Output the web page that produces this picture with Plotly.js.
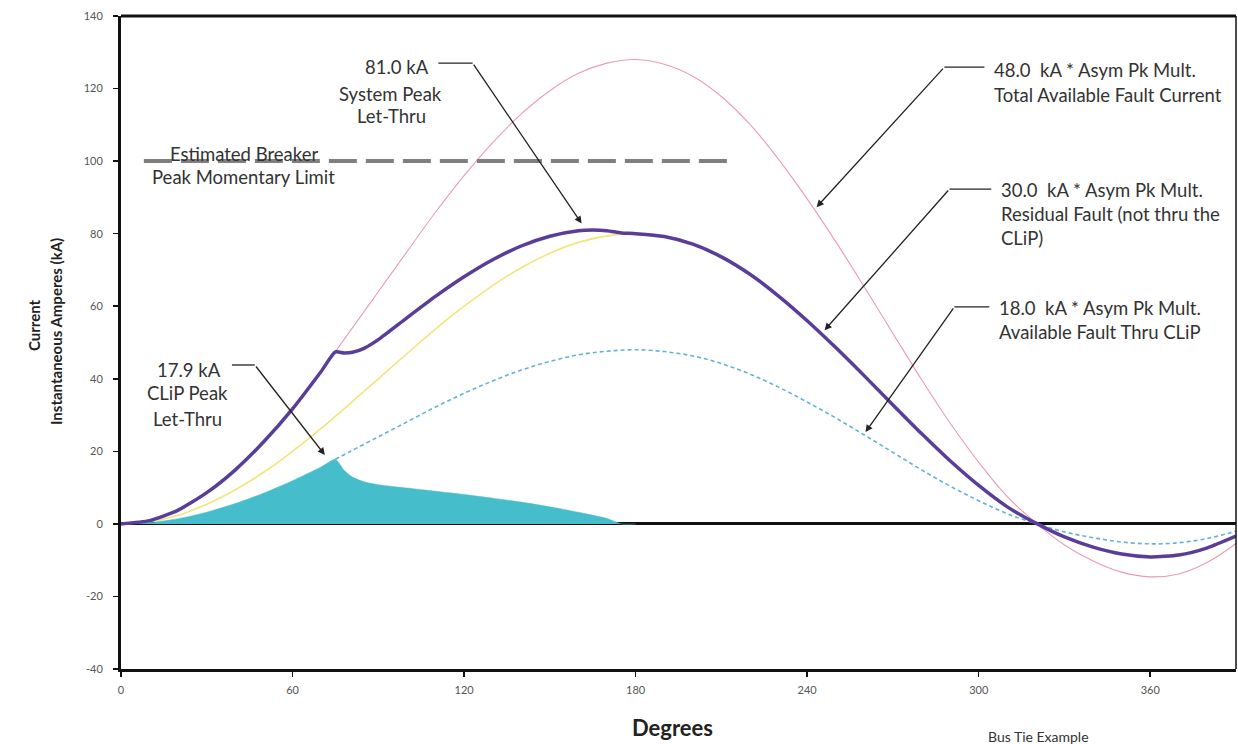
<!DOCTYPE html>
<html>
<head>
<meta charset="utf-8">
<script src="https://cdn.plot.ly/plotly-3.0.1.min.js"></script>
<style>html,body{margin:0;padding:0;background:#fff;}#chart{width:1238px;height:744px;}</style>
</head>
<body>
<div id="chart"></div>
<script>
// ---- data ----
const degTotal = [0,10,20,30,40,50,60,70,80,90,100,110,120,130,140,150,160,170,180,190,200,210,220,230,240,250,260,270,280,290,300,310,320,330,340,350,360,370,380,390];
const totalFault = [0,1,3.8,8.6,15,22.9,32,42.1,53,64,75,85.9,96,105.1,113,119.4,124.2,127,128,126.7,123.4,117.8,110.1,100.5,89.6,77.8,65.3,52.5,39.8,27.8,17,7.5,0.3,-5.8,-10.2,-13.3,-14.6,-13.8,-10.6,-5.4];
const residualFault = [0,0.6,2.4,5.4,9.4,14.3,20,26.3,33.1,40,46.9,53.7,60,65.7,70.6,74.6,77.6,79.4,80,79.2,77.1,73.6,68.8,62.8,56,48.6,40.8,32.8,24.9,17.4,10.6,4.7,0.2,-3.6,-6.4,-8.3,-9.1,-8.6,-6.6,-3.4];

const degClip = [75,80,90,100,110,120,130,140,150,160,170,180,190,200,210,220,230,240,250,260,270,280,290,300,310,320,330,340,350,360,370,380,390];
const clipFault = [17.8,19.9,24,28.1,32.2,36,39.4,42.4,44.8,46.6,47.6,48,47.5,46.3,44.2,41.3,37.7,33.6,29.2,24.5,19.7,14.9,10.4,6.4,2.8,0.1,-2.2,-3.8,-5,-5.5,-5.2,-4,-2];

const degLetThru = [0,10,20,30,40,50,60,70,75,78,81,85,90,100,110,120,130,140,150,160,170,175,180];
const clipLetThru = [0,0.36,1.44,3.24,5.6,8.5,11.9,15.7,17.8,14.8,12.9,11.6,10.8,9.9,9.0,8.1,7.1,6.0,4.7,3.2,1.5,0,0];

const degSystem = [0,10,20,30,40,50,60,70,75,78,81,85,90,100,110,120,130,140,150,160,165,170,175,180,190,200,210,220,230,240,250,260,270,280,290,300,310,320,330,340,350,360,370,380,390];
const systemLetThru = [0,0.9,3.8,8.6,14.9,22.7,31.7,42,47.4,47.1,47.3,48.4,50.8,56.8,62.7,68.1,72.8,76.6,79.3,80.8,81,80.8,80.2,80,79.2,77.1,73.6,68.8,62.8,56,48.6,40.8,32.8,24.9,17.4,10.6,4.7,0.2,-3.6,-6.4,-8.3,-9.1,-8.6,-6.6,-3.4];

const breakerDeg = [8,215];
const breakerLimit = [100,100];

const xTicks = [0,60,120,180,240,300,360];
const yTicks = [-40,-20,0,20,40,60,80,100,120,140];

const FONT = 'Lato, "Open Sans", sans-serif';
const ANN = 18.5;

const traces = [
  {x: degTotal, y: totalFault, mode:'lines', line:{color:'#e99abb', width:1.1, shape:'spline'}, hoverinfo:'skip'},
  {x: degTotal, y: residualFault, mode:'lines', line:{color:'#f2e57a', width:1.6, shape:'spline'}, hoverinfo:'skip'},
  {x: degClip, y: clipFault, mode:'lines', line:{color:'#62b3d6', width:1.6, shape:'spline', dash:'4px,3px'}, hoverinfo:'skip'},
  {x: degLetThru, y: clipLetThru, mode:'lines', fill:'tozeroy', fillcolor:'#46bdcb', line:{color:'#46bdcb', width:0.5, shape:'spline', smoothing:0.6}, hoverinfo:'skip'},
  {x: degSystem, y: systemLetThru, mode:'lines', line:{color:'#5a3d99', width:3.5, shape:'spline', smoothing:0.6}, hoverinfo:'skip'},
  {x: breakerDeg, y: breakerLimit, mode:'lines', line:{color:'#7f7f7f', width:4, dash:'28px,9px'}, hoverinfo:'skip'}
];

function txt(x, y, s, opts) {
  return Object.assign({x:x, y:y, xref:'x', yref:'y', text:s, showarrow:false,
    font:{family:FONT, size:ANN, color:'#333'}, xanchor:'left', yanchor:'middle'}, opts||{});
}
function arrow(x, y, ax, ay) {
  return {x:x, y:y, ax:ax, ay:ay, xref:'x', yref:'y', axref:'x', ayref:'y', text:'',
    showarrow:true, arrowhead:2, arrowsize:1.1, arrowwidth:1.3, arrowcolor:'#222'};
}
function seg(x0, y0, x1, y1) {
  return {type:'line', xref:'x', yref:'y', x0:x0, y0:y0, x1:x1, y1:y1, line:{color:'#222', width:1.3}};
}
// pixel -> paper helpers (plot area: x 121..1236, y 16..669)
const px = p => (p - 121) / 1115;
const py = p => (669 - p) / 653;

const annotations = [
  // 81.0 kA
  txt(96.6, 126.0, '81.0 kA', {xanchor:'center'}),
  txt(94.4, 118.6, 'System Peak', {xanchor:'center'}),
  txt(94.6, 112.3, 'Let-Thru', {xanchor:'center'}),
  arrow(161.1, 82.8, 123.0, 127.0),
  // Breaker
  txt(43.0, 101.9, 'Estimated Breaker', {xanchor:'center'}),
  txt(42.7, 95.6, 'Peak Momentary Limit', {xanchor:'center'}),
  // 48.0
  txt(304.8, 125.1, '48.0  kA * Asym Pk Mult.'),
  txt(304.8, 118.2, 'Total Available Fault Current'),
  arrow(243.3, 87.3, 288.0, 125.9),
  // 30.0
  txt(307.2, 92.0, '30.0  kA * Asym Pk Mult.'),
  txt(307.2, 85.3, 'Residual Fault (not thru the'),
  txt(307.2, 78.7, 'CLiP)'),
  arrow(246.1, 53.4, 289.8, 92.3),
  // 18.0
  txt(306.5, 59.5, '18.0  kA * Asym Pk Mult.'),
  txt(306.5, 52.9, 'Available Fault Thru CLiP'),
  arrow(260.4, 25.3, 291.5, 59.8),
  // 17.9
  txt(23.8, 42.4, '17.9 kA', {xanchor:'center'}),
  txt(23.2, 36.1, 'CLiP Peak', {xanchor:'center'}),
  txt(23.2, 28.9, 'Let-Thru', {xanchor:'center'}),
  arrow(71.3, 19.0, 46.8, 43.8),
  // axis titles and footnote
  {x:px(672), y:py(727), xref:'paper', yref:'paper', text:'<b>Degrees</b>', showarrow:false,
   font:{family:FONT, size:22, color:'#222'}, xanchor:'center', yanchor:'middle'},
  {x:px(1038), y:py(736), xref:'paper', yref:'paper', text:'Bus Tie Example', showarrow:false,
   font:{family:FONT, size:14, color:'#333'}, xanchor:'center', yanchor:'middle'},
  {x:px(34), y:py(325), xref:'paper', yref:'paper', text:'<b>Current</b>', showarrow:false, textangle:-90,
   font:{family:FONT, size:15, color:'#222'}, xanchor:'center', yanchor:'middle'},
  {x:px(56), y:py(332), xref:'paper', yref:'paper', text:'<b>Instantaneous Amperes (kA)</b>', showarrow:false, textangle:-90,
   font:{family:FONT, size:15, color:'#222'}, xanchor:'center', yanchor:'middle'}
];

const layout = {
  width:1238, height:744,
  margin:{l:121, r:2, t:16, b:75},
  paper_bgcolor:'#fff', plot_bgcolor:'#fff',
  showlegend:false,
  font:{family:FONT, color:'#555'},
  xaxis:{range:[0,390], tickvals:xTicks, ticktext:xTicks.map(String), showgrid:false, zeroline:false,
    showline:true, linecolor:'#111', linewidth:3, ticks:'outside', ticklen:5, tickwidth:1.5, tickcolor:'#111',
    tickfont:{family:FONT, size:11, color:'#555'}, ticklabelstandoff:4, fixedrange:true},
  yaxis:{range:[-40,140], tickvals:yTicks, ticktext:yTicks.map(String), showgrid:false,
    zeroline:true, zerolinecolor:'#111', zerolinewidth:3,
    showline:true, linecolor:'#111', linewidth:3, ticks:'outside', ticklen:5, tickwidth:1.5, tickcolor:'#111',
    tickfont:{family:FONT, size:11, color:'#555'}, ticklabelstandoff:8, fixedrange:true},
  shapes:[
    {type:'line', xref:'paper', yref:'paper', x0:0, x1:1, y0:1, y1:1, line:{color:'#111', width:3}},
    {type:'line', xref:'paper', yref:'paper', x0:1, x1:1, y0:0, y1:1, line:{color:'#111', width:1.5}},
    seg(111.0, 127.0, 123.0, 127.0),
    seg(288.0, 125.9, 302.0, 125.9),
    seg(289.8, 92.3, 304.4, 92.3),
    seg(291.5, 59.8, 303.7, 59.8),
    seg(38.8, 43.8, 46.8, 43.8)
  ],
  annotations: annotations
};

Plotly.newPlot('chart', traces, layout, {staticPlot:true, displayModeBar:false});
</script>
</body>
</html>
